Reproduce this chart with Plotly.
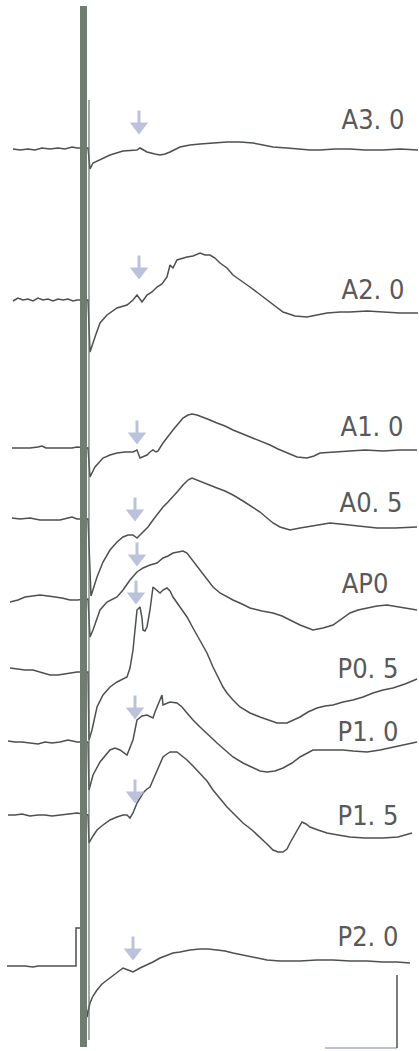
import plotly.graph_objects as go

# Evoked responses recorded at nine electrode positions (A3.0 ... P2.0).
# Time in ms relative to the stimulus, amplitude in uV (positive = up).
labels = ["A3. 0", "A2. 0", "A1. 0", "A0. 5", "AP0", "P0. 5", "P1. 0", "P1. 5", "P2. 0"]

A30_t = [-7.6, -6.9, -6.1, -5.4, -4.7, -3.9, -3.1, -2.4, -1.7, -1.2, -0.1, 0.1, 0.4, 1.1, 2.1, 3.4, 4.3, 4.8, 5.1, 5.8,
         6.6, 7.1, 7.6, 8.1, 9.1, 10.1, 11.1, 12.4, 13.8, 15.1, 16.4, 17.4, 18.4, 19.8, 21.1, 22.1, 23.1, 24.6, 26.1, 27.6,
         29.4, 31.1, 32.9]
A30_v = [0, -0.1, 0, -0.1, 0.1, 0, 0.1, 0, 0.2, 0.1, 0.1, -2.0, -1.4, -1.1, -0.6, -0.2, -0.1, -0.1, 0.1, -0.3,
         -0.5, -0.6, -0.5, -0.3, 0.2, 0.4, 0.5, 0.6, 0.7, 0.7, 0.6, 0.4, 0.2, 0.1, 0, -0.1, -0.1, 0, 0, -0.1,
         -0.1, 0, -0.1]

A20_t = [-7.6, -7.1, -6.6, -6.1, -5.6, -5.1, -4.6, -4.1, -3.6, -3.1, -2.6, -2.1, -1.6, -1.2, -0.1, 0.1,
         0.6, 1.1, 1.8, 2.8, 3.8, 4.4, 4.8, 5.3, 5.8, 6.3, 6.8, 7.3, 7.8, 8.1, 8.4, 8.8, 9.8, 10.4, 11.1, 11.6,
         12.1, 12.6, 13.1, 13.8, 14.4, 15.3, 16.1, 16.9, 17.8, 18.6, 19.4, 20.6, 21.8, 22.8, 23.8, 25.1, 26.1,
         27.8, 29.4, 31.1, 32.9]
A20_v = [-0.1, 0.2, 0, 0.1, -0.1, 0.2, 0, 0.1, -0.1, 0.1, 0, 0.1, -0.1, 0, 0, -5.2,
         -3.7, -2.3, -1.5, -0.8, -0.5, 0, 0.5, -0.2, 0.5, 0.8, 1.3, 1.6, 2.3, 3.5, 3.2, 4.0, 4.3, 4.4, 4.7, 4.5,
         4.5, 4.2, 3.7, 3.2, 2.5, 1.9, 1.3, 0.7, 0, -0.6, -1.2, -1.6, -1.7, -1.5, -1.3, -1.2, -1.2,
         -1.1, -1.2, -1.3, -1.3]

A10_t = [-7.7, -6.9, -5.9, -5.1, -4.7, -4.3, -3.4, -2.4, -1.7, -1.2, -0.1, 0.1, 0.6, 1.4, 2.1, 2.8, 3.6, 4.4, 4.8, 5.1,
         5.5, 5.8, 6.1, 6.4, 6.7, 6.9, 7.4, 7.9, 8.4, 8.9, 9.4, 9.9, 10.3, 10.8, 11.4, 12.1, 12.8, 13.6, 14.4, 15.4,
         16.4, 17.3, 18.1, 18.9, 19.8, 20.8, 21.8, 22.5, 23.1, 24.6, 26.1, 27.6, 29.4, 31.1, 32.8]
A10_v = [0, 0, 0, 0.1, 0.2, 0, 0, 0, 0, 0.1, 0, -2.9, -1.9, -1.0, -0.7, -0.5, -0.4, -0.4, -0.2, -1.0,
         -0.8, -0.7, -0.4, -0.2, -0.4, -0.3, 0.5, 1.2, 1.8, 2.4, 3.0, 3.3, 3.4, 3.3, 3.1, 2.8, 2.5, 2.2, 1.8, 1.4,
         1.0, 0.7, 0.3, -0.1, -0.5, -0.9, -1.0, -0.8, -0.5, -0.4, -0.3, -0.2, -0.3, -0.2, -0.2]

A05_t = [-7.7, -6.9, -5.9, -4.9, -3.9, -2.9, -2.1, -1.7, -1.2, -0.1, 0.2, 0.4, 0.8, 1.4, 2.1, 2.8, 3.4, 3.9, 4.4, 4.8,
         5.1, 5.4, 5.9, 6.4, 6.9, 7.4, 7.9, 8.4, 8.9, 9.4, 9.9, 10.3, 10.8, 11.1, 11.9, 12.8, 13.6, 14.4, 15.4, 16.4,
         17.1, 17.8, 18.4, 19.1, 20.1, 21.1, 21.8, 22.9, 24.1, 25.1, 26.1, 27.4, 28.8, 30.6, 32.8]
A05_v = [0.1, 0, 0.1, -0.1, -0.1, -0.1, 0.1, 0.2, 0, 0, -7.7, -7.1, -5.8, -4.3, -3.1, -2.3, -1.8, -1.6, -1.6, -1.9,
         -1.6, -1.3, -0.8, -0.1, 0.6, 1.2, 1.7, 2.2, 2.8, 3.4, 3.9, 4.1, 3.9, 3.7, 3.4, 3.1, 2.8, 2.4, 1.8, 1.2,
         0.7, 0.1, -0.4, -0.8, -1.1, -0.9, -0.8, -0.6, -0.4, -0.5, -0.6, -0.8, -0.9, -0.9, -0.8]

AP0_t = [-7.9, -7.1, -6.4, -5.6, -4.9, -4.1, -3.4, -2.7, -1.9, -1.2, -0.1, 0.1, 0.4, 0.8, 1.1, 1.8, 2.8, 3.4, 4.1, 4.8,
         5.4, 6.1, 6.8, 7.4, 7.9, 8.4, 8.9, 9.4, 9.8, 10.1, 10.6, 11.1, 11.8, 12.4, 13.1, 13.8, 14.4, 15.3, 16.1, 17.3,
         18.4, 19.3, 20.1, 21.1, 22.4, 23.4, 24.4, 25.3, 26.1, 26.9, 27.8, 28.8, 29.8, 31.1, 32.8]
AP0_v = [-0.3, -0.1, 0.2, 0.3, 0.4, 0.3, 0.2, 0.1, -0.1, -0.1, 0, -3.8, -3.1, -1.9, -1.1, -0.3, 0.2, 0.9, 1.9, 2.7,
         3.1, 3.4, 3.6, 4.1, 4.3, 4.6, 4.7, 4.8, 4.6, 4.2, 3.6, 2.9, 1.9, 1.2, 0.6, 0.2, -0.1, -0.5, -0.9, -1.2,
         -1.4, -1.7, -2.1, -2.6, -3.1, -2.9, -2.6, -2.0, -1.4, -1.1, -0.9, -0.7, -0.6, -0.8, -1.1]

P05_t = [-7.9, -7.1, -6.4, -5.6, -4.9, -3.9, -3.1, -2.4, -1.7, -1.2, -0.1, 0.0, 0.3, 0.8, 1.4, 2.1, 2.8, 3.4, 3.8, 4.1,
         4.4, 4.6, 4.8, 5.1, 5.3, 5.4, 5.6, 5.8, 6.1, 6.4, 6.8, 7.1, 7.4, 7.8, 8.1, 8.4, 9.1, 9.8, 10.4, 11.1,
         11.8, 12.4, 12.9, 13.4, 13.8, 14.4, 15.1, 16.1, 17.1, 18.1, 18.8, 19.8, 20.4, 21.1, 21.9, 22.8, 23.6, 24.4,
         25.4, 26.4, 27.4, 28.4, 29.4, 30.4, 31.6, 32.8]
P05_v = [0.3, 0.2, 0.1, 0.1, -0.1, -0.4, -0.4, -0.3, -0.2, -0.1, -0.1, -6.9, -5.9, -3.6, -2.4, -1.6, -1.1, -0.8, -0.6, 0.3,
         2.1, 4.1, 6.1, 6.4, 5.3, 4.1, 4.0, 4.4, 6.1, 8.4, 8.1, 7.8, 8.1, 8.3, 8.0, 7.4, 6.4, 5.4, 4.3, 3.1,
         1.8, 0.4, -0.6, -1.6, -2.2, -2.9, -3.6, -4.2, -4.6, -5.0, -5.2, -5.2, -4.9, -4.6, -4.1, -3.7, -3.5, -3.4,
         -3.1, -2.9, -2.6, -2.2, -1.9, -1.7, -1.3, -0.8]

P10_t = [-8.1, -7.4, -6.7, -5.9, -5.1, -4.4, -3.7, -2.9, -2.1, -1.2, -0.1, 0.0, 0.4, 1.1, 2.1, 2.6, 3.1, 3.8, 4.1, 4.4,
         4.8, 5.3, 5.8, 6.4, 6.6, 6.8, 7.1, 7.3, 7.4, 7.8, 8.1, 8.8, 9.3, 9.8, 10.4, 11.1, 11.9, 12.8, 13.6, 14.4,
         15.4, 16.4, 17.1, 17.8, 18.6, 19.4, 20.3, 21.1, 21.8, 22.4, 23.4, 24.4, 25.4, 26.4, 27.8, 29.1, 30.4, 31.6, 32.8]
P10_v = [0.1, 0, 0, -0.1, -0.2, 0, -0.1, 0, 0.2, 0, 0, -4.8, -3.3, -2.0, -0.8, -0.6, -0.8, -1.3, -0.6, 0.2,
         2.2, 2.6, 2.7, 2.4, 3.0, 3.5, 4.2, 4.7, 3.7, 3.9, 4.0, 3.9, 3.5, 2.9, 2.2, 1.5, 0.7, -0.1, -0.8, -1.5,
         -2.1, -2.6, -2.9, -3.0, -2.9, -2.6, -2.1, -1.5, -1.1, -0.8, -0.8, -0.8, -0.8, -0.9, -1.0, -0.8, -0.5, -0.3, 0]

P15_t = [-8.1, -7.4, -6.7, -5.9, -5.1, -4.4, -3.7, -2.9, -2.1, -1.2, -0.1, 0.0, 0.4, 0.8, 1.4, 2.1, 2.8, 3.4, 3.8, 4.1,
         4.4, 4.8, 5.1, 5.4, 5.8, 6.1, 6.4, 6.8, 7.1, 7.4, 7.8, 8.1, 8.8, 9.3, 9.8, 10.4, 11.1, 11.8, 12.4, 13.1,
         13.8, 14.6, 15.4, 16.3, 17.1, 17.8, 18.4, 18.9, 19.4, 19.8, 20.1, 20.5, 20.8, 21.3, 21.7, 22.1, 22.9, 23.8,
         24.9, 26.1, 27.6, 29.4, 30.9, 32.3]
P15_v = [0, 0, 0.1, -0.1, 0, 0, -0.1, 0, 0.1, 0.2, 0, -2.8, -2.1, -1.5, -1.0, -0.5, -0.2, 0, 0, -0.3,
         0.2, 1.2, 1.7, 2.2, 2.6, 2.8, 3.5, 4.5, 5.2, 5.8, 6.1, 6.3, 6.3, 5.9, 5.5, 4.9, 4.2, 3.4, 2.5, 1.7,
         0.8, 0, -0.8, -1.5, -2.2, -2.9, -3.5, -3.7, -3.7, -3.4, -2.8, -2.1, -1.5, -0.7, -0.9, -1.2, -1.5, -1.8,
         -2.0, -2.2, -2.3, -2.3, -2.2, -1.8]

P20_t = [-8.2, -7.4, -6.4, -5.6, -5.1, -4.4, -3.4, -2.4, -1.7, -1.3, -1.3, -0.8, -0.2, 0.1, 0.4, 0.8, 1.3, 1.8, 2.3, 2.8,
         3.4, 3.9, 4.4, 5.1, 5.8, 6.4, 7.1, 7.8, 8.4, 9.1, 10.1, 11.1, 11.9, 12.8, 13.6, 14.4, 15.4, 16.4, 17.1, 17.8,
         19.1, 21.1, 22.8, 24.4, 26.1, 27.8, 29.4, 30.8, 32.1]
P20_v = [0, 0, 0, -0.1, 0, 0, 0, 0, 0, 0, 3.8, 3.8, -5.1, -3.7, -3.0, -2.4, -1.8, -1.4, -1.0, -0.6,
         -0.2, -0.4, -0.6, -0.2, 0.1, 0.4, 0.8, 1.1, 1.3, 1.4, 1.6, 1.7, 1.7, 1.6, 1.5, 1.3, 1.1, 0.9, 0.7, 0.6,
         0.5, 0.5, 0.6, 0.6, 0.5, 0.5, 0.4, 0.4, 0.3]

# Onset latency (ms) marked by an arrow on each sweep
onset_t = [5.0, 5.0, 4.8, 4.6, 4.8, 4.7, 4.6, 4.6, 4.4]

# Calibration bar lengths
cal_ms = 7.2
cal_uv = 7.3

series = [(A30_t, A30_v), (A20_t, A20_v), (A10_t, A10_v), (A05_t, A05_v), (AP0_t, AP0_v),
          (P05_t, P05_v), (P10_t, P10_v), (P15_t, P15_v), (P20_t, P20_v)]

# ---- layout of the stacked sweeps (vertical offsets, label / arrow placement) ----
row_offset = [14.9, 30.0, 44.8, 51.9, 59.9, 67.1, 74.2, 81.5, 96.6]
arrow_rise = [2.6, 3.2, 1.5, 0.9, 4.4, 7.8, 3.4, 2.3, 1.7]
label_rise = [2.7, 0.8, 1.9, 1.4, 1.3, 0.0, 0.8, -0.3, 2.7]
label_t = [28.4, 28.4, 28.3, 28.2, 27.6, 27.9, 27.9, 27.9, 27.9]
stim_bar_t = -0.55
stim_line_t = 0.0
cal_corner = (30.8, -104.8)

trace_color = "#4b514c"
arrow_color = "#bcc1dc"
label_color = "#595959"

fig = go.Figure()

for (t, v), off in zip(series, row_offset):
    fig.add_trace(go.Scatter(
        x=t, y=[val - off for val in v], mode="lines",
        line=dict(color=trace_color, width=1.5), hoverinfo="skip", showlegend=False))

# stimulus artefact line
fig.add_trace(go.Scatter(
    x=[stim_line_t, stim_line_t], y=[-10.0, -104.0], mode="lines",
    line=dict(color="#6a6f6b", width=1.2), hoverinfo="skip", showlegend=False))

# stimulus bar, drawn over the sweep starts
fig.add_trace(go.Scatter(
    x=[stim_bar_t, stim_bar_t], y=[-0.6, -104.7], mode="lines",
    line=dict(color="#6f7c71", width=7), hoverinfo="skip", showlegend=False))

# onset arrows: short stem above a filled head
arrow_y = [r - off for r, off in zip(arrow_rise, row_offset)]
fig.add_trace(go.Scatter(
    x=onset_t, y=[y + 0.55 for y in arrow_y], mode="markers",
    marker=dict(symbol="line-ns", size=10, line=dict(color=arrow_color, width=3)),
    hoverinfo="skip", showlegend=False))
fig.add_trace(go.Scatter(
    x=onset_t, y=[y - 0.35 for y in arrow_y], mode="markers",
    marker=dict(symbol="triangle-down", size=16, color=arrow_color),
    hoverinfo="skip", showlegend=False))

# electrode labels
fig.add_trace(go.Scatter(
    x=label_t, y=[r - off for r, off in zip(label_rise, row_offset)], mode="text",
    text=labels, textposition="middle center",
    textfont=dict(family="Liberation Sans Narrow, DejaVu Sans Condensed, Liberation Sans, sans-serif",
                  size=27, color=label_color),
    hoverinfo="skip", showlegend=False))

# calibration bar
cx, cy = cal_corner
fig.add_trace(go.Scatter(
    x=[cx - cal_ms, cx], y=[cy, cy], mode="lines",
    line=dict(color="#a9aec4", width=1.5), hoverinfo="skip", showlegend=False))
fig.add_trace(go.Scatter(
    x=[cx, cx], y=[cy, cy + cal_uv], mode="lines",
    line=dict(color="#4e524f", width=1.5), hoverinfo="skip", showlegend=False))

fig.update_layout(
    width=419, height=1051,
    margin=dict(l=0, r=0, t=0, b=0),
    paper_bgcolor="white", plot_bgcolor="white",
    xaxis=dict(range=[-8.9, 33.0], visible=False, fixedrange=True),
    yaxis=dict(range=[-105.1, 0], visible=False, fixedrange=True),
)

fig.write_html("out.html")
